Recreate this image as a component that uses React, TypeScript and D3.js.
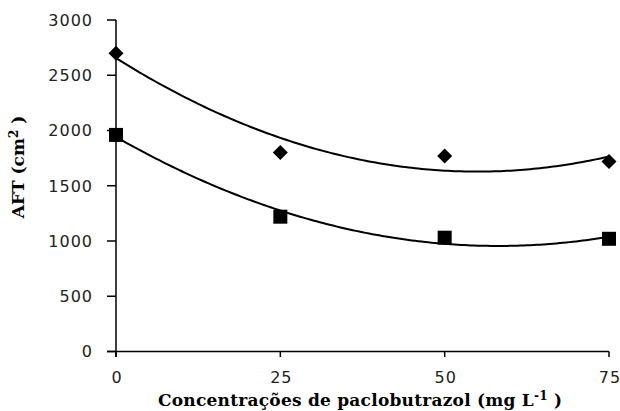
import React from 'react';
import * as d3 from 'd3';

// paclobutrazol concentrations (mg L-1)
const doses = [0, 25, 50, 75];
// AFT (cm2) per treatment
const diamondValues = [2700, 1800, 1770, 1720];
const squareValues = [1960, 1220, 1030, 1020];
const yTicks = [0, 500, 1000, 1500, 2000, 2500, 3000];
const xTicks = [0, 25, 50, 75];

// least squares quadratic fit, y = a + b x + c x^2
function quadFit(xs: number[], ys: number[]) {
  const n = xs.length;
  const S = (f: (x: number, y: number) => number) => d3.sum(xs, (x, i) => f(x, ys[i]));
  const s1 = S(x => x), s2 = S(x => x * x), s3 = S(x => x ** 3), s4 = S(x => x ** 4);
  const t0 = S((x, y) => y), t1 = S((x, y) => x * y), t2 = S((x, y) => x * x * y);
  // solve 3x3 by Cramer's rule
  const m = [[n, s1, s2], [s1, s2, s3], [s2, s3, s4]];
  const det = (a: number[][]) =>
    a[0][0] * (a[1][1] * a[2][2] - a[1][2] * a[2][1]) -
    a[0][1] * (a[1][0] * a[2][2] - a[1][2] * a[2][0]) +
    a[0][2] * (a[1][0] * a[2][1] - a[1][1] * a[2][0]);
  const D = det(m);
  const rhs = [t0, t1, t2];
  const col = (k: number) => m.map((row, i) => row.map((v, j) => (j === k ? rhs[i] : v)));
  const a = det(col(0)) / D, b = det(col(1)) / D, c = det(col(2)) / D;
  return (x: number) => a + b * x + c * x * x;
}

export default function App() {
  const width = 620;
  const height = 411;
  const left = 116, right = 609, top = 20, bottom = 351.5;

  const x = d3.scaleLinear().domain([0, 75]).range([left, right]);
  const y = d3.scaleLinear().domain([0, 3000]).range([bottom, top]);

  const xs = d3.range(0, 75.01, 0.5);
  const line = d3.line<number>().x(d => x(d)).y(d => y(d));
  const fitD = quadFit(doses, diamondValues);
  const fitS = quadFit(doses, squareValues);

  const diamond = 7.5;
  const sq = 7;
  const tickFont = { fontFamily: 'DejaVu Sans, Verdana, sans-serif', fontSize: 16, fill: '#222', letterSpacing: 1 };
  const titleFont = { fontFamily: '"DejaVu Serif", serif', fontWeight: 'bold' as const, fontSize: 17, fill: '#000' };

  return (
    <svg width={width} height={height} style={{ position: 'absolute', left: 0, top: 0, background: '#fff' }}>
      {/* axes */}
      <line x1={left} x2={left} y1={top} y2={bottom + 5.5} stroke="#000" strokeWidth={1.5} />
      <line x1={left - 9} x2={right} y1={bottom} y2={bottom} stroke="#000" strokeWidth={1.5} />
      {yTicks.map(t => (
        <g key={'y' + t}>
          <line x1={left - 9} x2={left} y1={y(t)} y2={y(t)} stroke="#000" strokeWidth={1.5} />
          <text x={left - 23} y={y(t)} dy="0.36em" textAnchor="end" style={tickFont}>{t}</text>
        </g>
      ))}
      {xTicks.map(t => (
        <g key={'x' + t}>
          <line x1={x(t)} x2={x(t)} y1={bottom} y2={bottom + 5.5} stroke="#000" strokeWidth={1.5} />
          <text x={x(t) + 1} y={383} textAnchor="middle" style={tickFont}>{t}</text>
        </g>
      ))}

      {/* fitted curves */}
      <path d={line.y(d => y(fitD(d)))(xs) ?? ''} fill="none" stroke="#000" strokeWidth={2} />
      <path d={line.y(d => y(fitS(d)))(xs) ?? ''} fill="none" stroke="#000" strokeWidth={2} />

      {/* markers */}
      {doses.map((d, i) => (
        <path key={'d' + i}
          d={`M${x(d)},${y(diamondValues[i]) - diamond}L${x(d) + diamond},${y(diamondValues[i])}L${x(d)},${y(diamondValues[i]) + diamond}L${x(d) - diamond},${y(diamondValues[i])}Z`}
          fill="#000" />
      ))}
      {doses.map((d, i) => (
        <rect key={'s' + i} x={x(d) - sq} y={y(squareValues[i]) - sq} width={sq * 2} height={sq * 2} fill="#000" />
      ))}

      {/* axis titles */}
      <text x={360} y={406} textAnchor="middle" textLength={404} lengthAdjust="spacing" style={titleFont}>
        Concentrações de paclobutrazol (mg L<tspan dy={-6} fontSize={12}>-1</tspan><tspan dy={6}> )</tspan>
      </text>
      <text transform="translate(24,167) rotate(-90)" textAnchor="middle" style={titleFont}>
        AFT (cm<tspan dy={-6} fontSize={12}>2</tspan><tspan dy={6}> )</tspan>
      </text>
    </svg>
  );
}
